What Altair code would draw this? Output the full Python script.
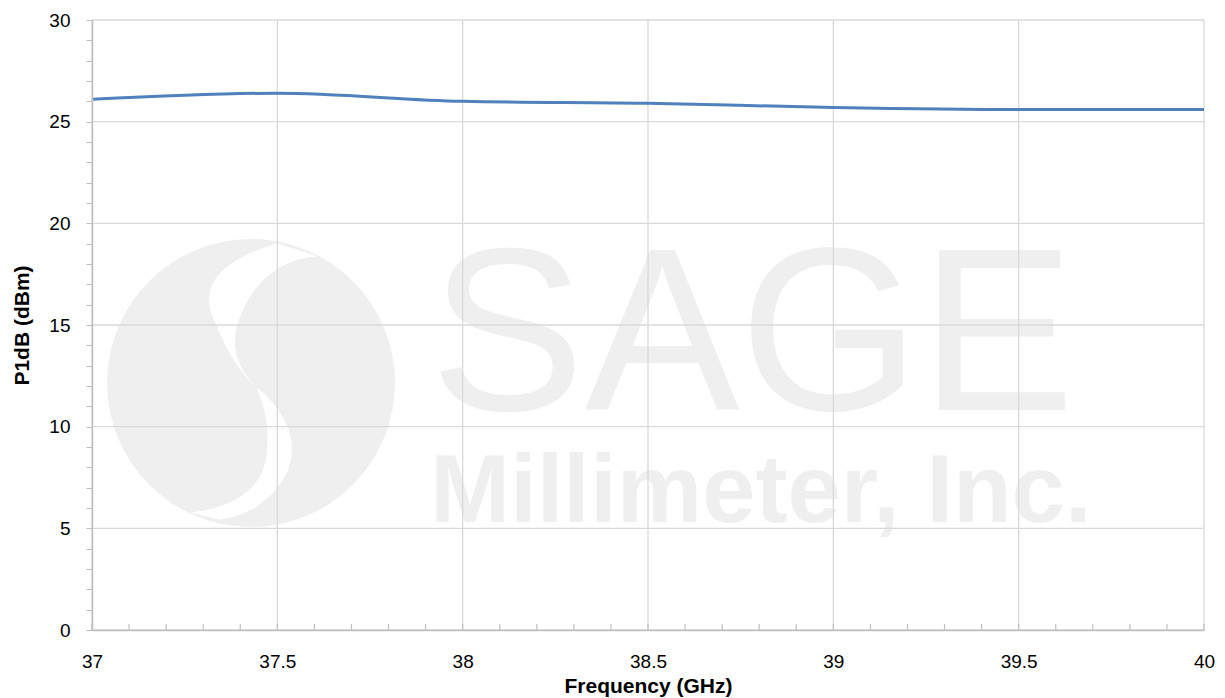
import altair as alt
import pandas as pd

# ---- data ----
freq = [37.0, 37.5, 38.0, 38.5, 39.0, 39.5, 40.0]
p1db = [26.1, 26.4, 26.0, 25.9, 25.7, 25.6, 25.6]

x_major = [37.0, 37.5, 38.0, 38.5, 39.0, 39.5, 40.0]
y_major = [0, 5, 10, 15, 20, 25, 30]
y_all = list(range(0, 31))
x_minor = [round(37 + i * 0.1, 1) for i in range(31)]

wm_text = ["SAGE", "Millimeter, Inc."]
wm_text_x = [37.912, 37.912]
wm_text_y = [10.82, 5.31]
logo_x = [37.429]
logo_y = [12.15]

AX = "#bfbfbf"
GRID = "#d9d9d9"
WM = "#efefef"
FONT = "Liberation Sans"

xscale = alt.Scale(domain=[37, 40], nice=False, zero=False)
yscale = alt.Scale(domain=[0, 30], nice=False)

xaxis = alt.Axis(values=x_major, ticks=False, tickSize=0, grid=False, domainColor=AX, domainWidth=1.5,
                 labelFont=FONT, labelFontSize=19, labelColor="#000000", labelPadding=22,
                 labelExpr="format(datum.value, '.10~f')", labelFlush=False,
                 title="Frequency (GHz)", titleFont=FONT, titleFontSize=21, titleFontWeight="bold",
                 titleColor="#000000", titleY=56, titleBaseline="middle", titleAnchor="middle", zindex=1)
yaxis = alt.Axis(values=y_all, tickSize=6, tickColor=AX, grid=False, domainColor=AX, domainWidth=1.5,
                 labelFont=FONT, labelFontSize=19, labelColor="#000000", labelPadding=16,
                 labelExpr="datum.value % 5 == 0 ? datum.label : ''",
                 title="P1dB (dBm)", titleFont=FONT, titleFontSize=21, titleFontWeight="bold",
                 titleColor="#000000", titleX=-70, titleY=305, titleAngle=-90,
                 titleBaseline="middle", titleAlign="center", zindex=1)

line_df = pd.DataFrame({"x": freq, "y": p1db})
wm_df = pd.DataFrame({"x": wm_text_x, "y": wm_text_y, "t": wm_text})
logo_df = pd.DataFrame({"x": logo_x, "y": logo_y})
xg_df = pd.DataFrame({"x": x_major})
yg_df = pd.DataFrame({"y": y_major})
xm_df = pd.DataFrame({"x": x_minor})

X = lambda: alt.X("x:Q", scale=xscale, axis=xaxis)
Y = lambda: alt.Y("y:Q", scale=yscale, axis=yaxis)

logo = alt.Chart(logo_df).mark_point(shape="circle", filled=True, size=288 * 288, color=WM, opacity=1).encode(x=X(), y=Y())

s_path = ("M 0.18 -0.97 Q -0.45 -0.78 -0.24 -0.40 Q -0.12 -0.10 0.04 0.03 "
          "Q -0.20 -0.20 -0.06 -0.50 Q 0.10 -0.85 0.46 -0.88 Z "
          "M 0.04 0.03 Q 0.36 0.30 0.26 0.60 Q 0.12 0.90 -0.22 0.95 "
          "L -0.42 0.90 Q 0.02 0.85 0.10 0.55 Q 0.15 0.30 0.04 0.03 Z")
logo_s = alt.Chart(logo_df).mark_point(shape=s_path, filled=True, size=288 * 288, color="#ffffff", opacity=1).encode(x=X(), y=Y())

sage = alt.Chart(wm_df.iloc[[0]]).mark_text(align="left", baseline="alphabetic", font=FONT,
                                            fontSize=232, color=WM).encode(x=X(), y=Y(), text="t:N")
mill = alt.Chart(wm_df.iloc[[1]]).mark_text(align="left", baseline="alphabetic", font=FONT, fontWeight="bold",
                                            fontSize=96, color=WM).encode(x=X(), y=Y(), text="t:N")

vgrid = alt.Chart(xg_df).mark_rule(color=GRID, strokeWidth=1.3).encode(x=X())
hgrid = alt.Chart(yg_df).mark_rule(color=GRID, strokeWidth=1.3).encode(y=Y())

xticks = alt.Chart(xm_df).mark_tick(orient="vertical", size=6, thickness=1.2, yOffset=-3, color=AX, opacity=1).encode(
    x=X(), y=alt.Y(datum=0, scale=yscale, axis=yaxis))

line = alt.Chart(line_df).mark_line(color="#4f81bd", strokeWidth=3, interpolate="monotone").encode(x=X(), y=Y())

chart = alt.layer(logo, logo_s, sage, mill, vgrid, hgrid, xticks, line).properties(
    width=1112, height=610,
    autosize=alt.AutoSizeParams(type="none"),
    padding={"left": 84, "top": 12, "right": 13, "bottom": 68},
).configure_view(stroke=None)

chart.save("out.html", embed_options={"renderer": "svg", "actions": False})
